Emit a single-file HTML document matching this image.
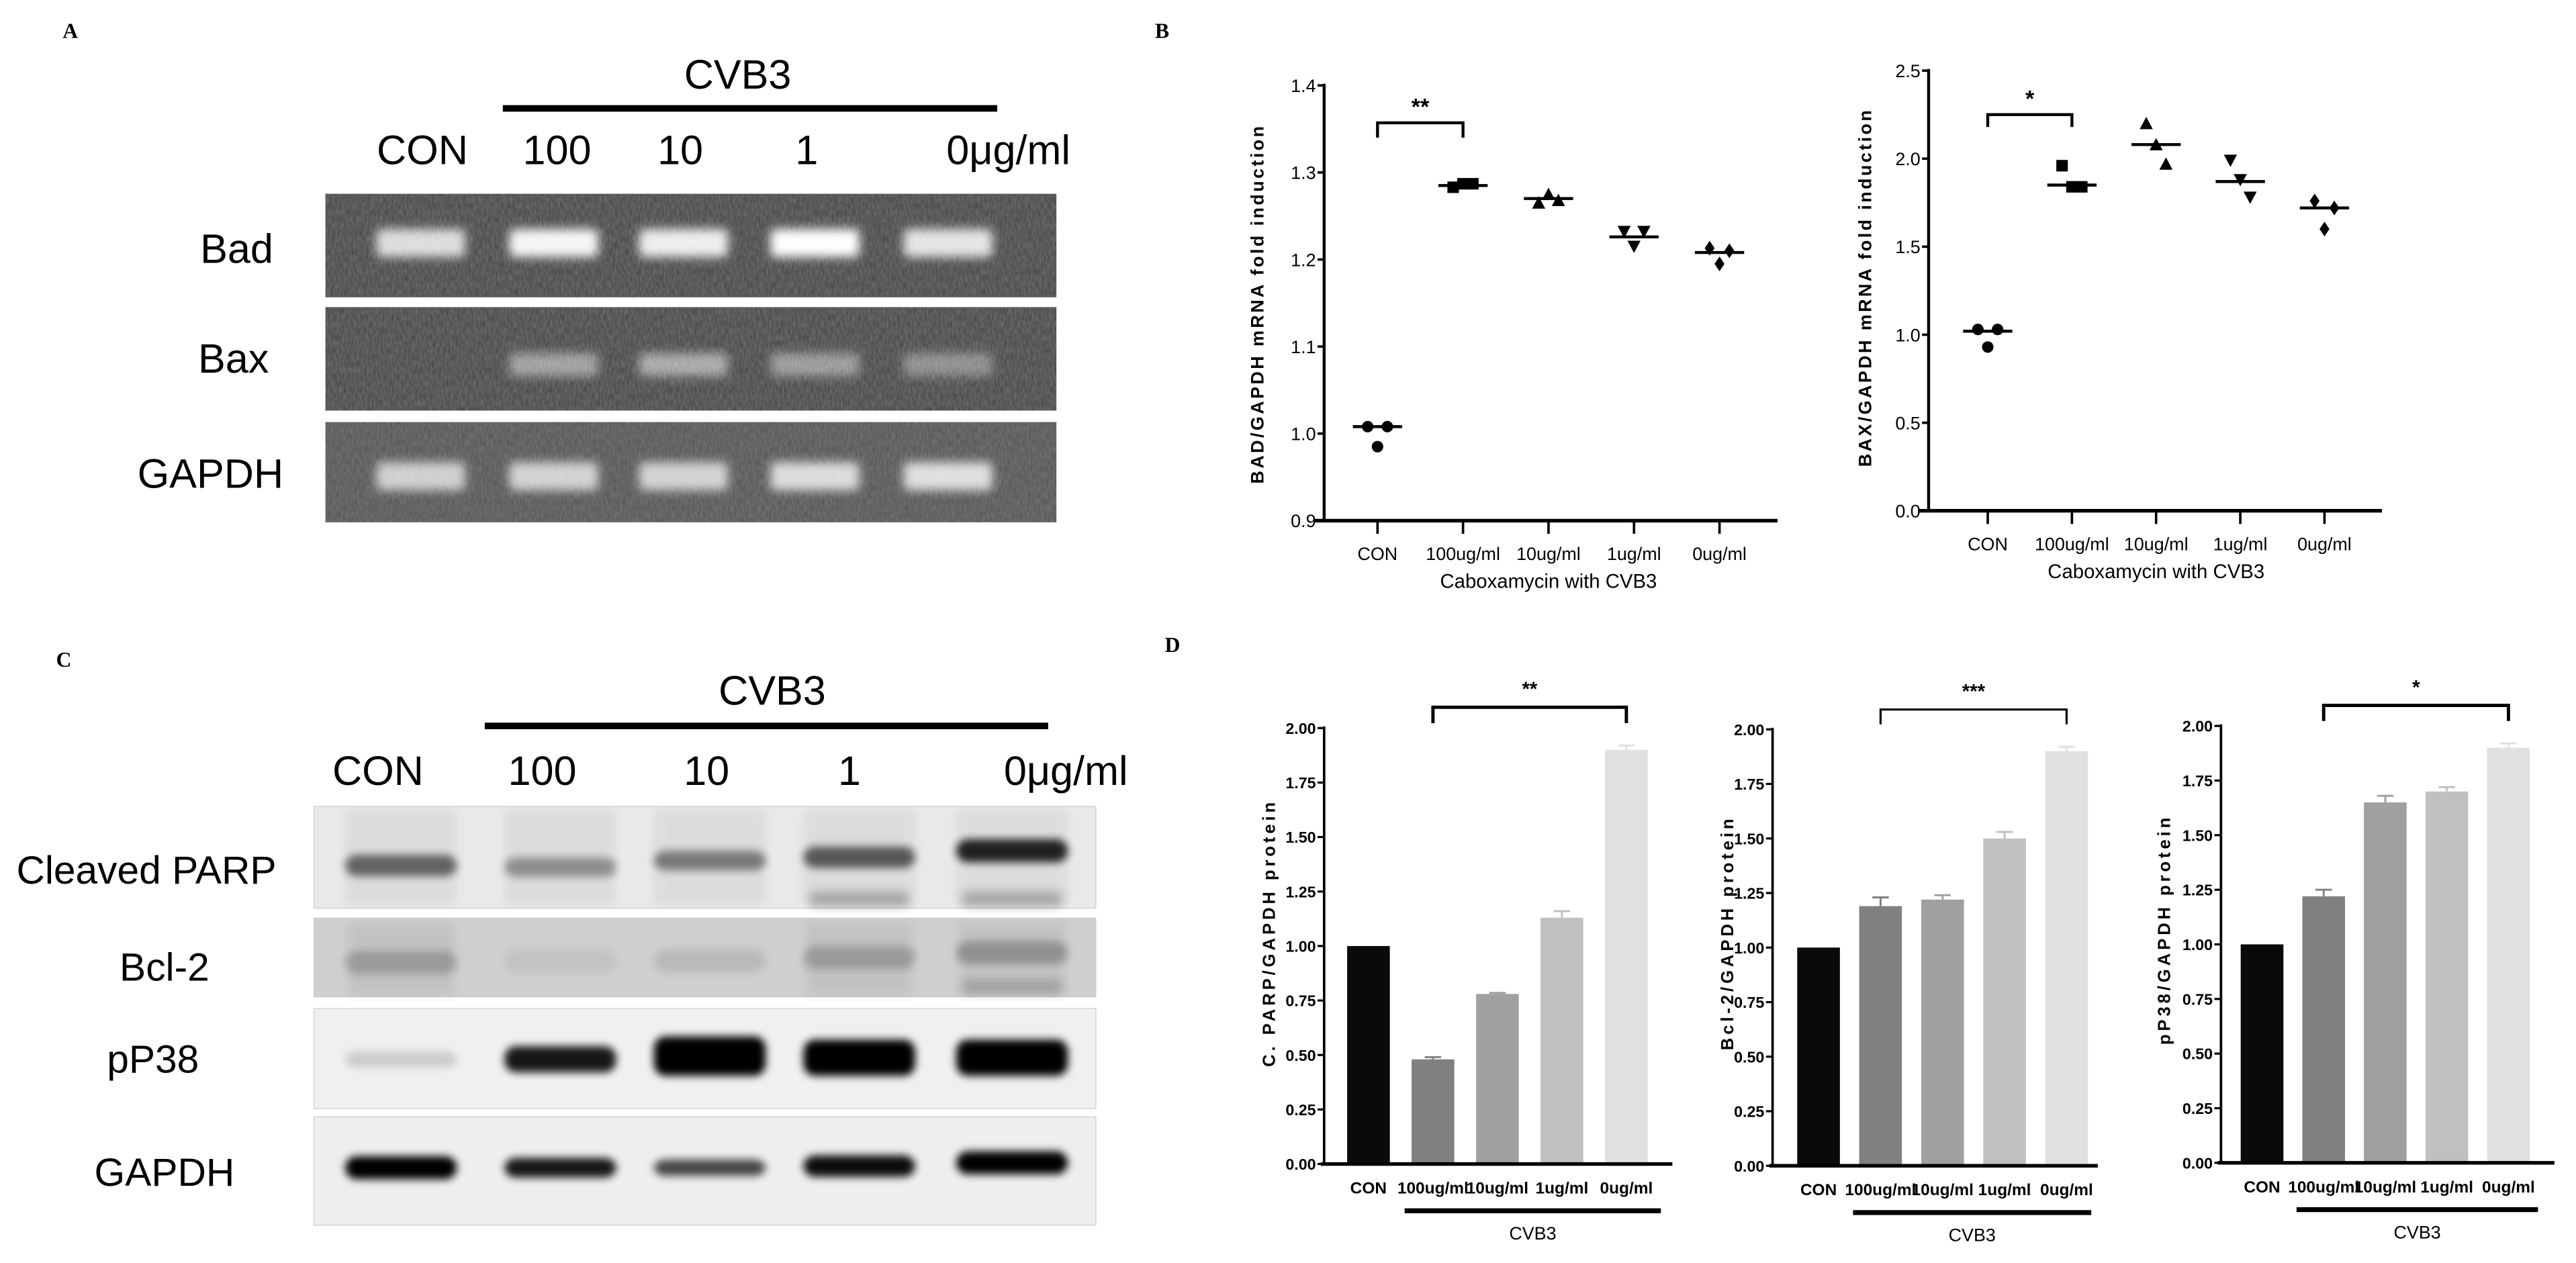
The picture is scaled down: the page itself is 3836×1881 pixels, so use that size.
<!DOCTYPE html>
<html><head><meta charset="utf-8">
<style>
html,body{margin:0;padding:0;background:#fff;}
svg{display:block;}
.sans{font-family:"Liberation Sans","DejaVu Sans",sans-serif;}
.narrow{font-family:"Liberation Sans Narrow","Liberation Sans",sans-serif;}
.serif{font-family:"Liberation Serif",serif;}
</style></head>
<body>
<svg id="fig" width="3836" height="1881" viewBox="0 0 1568 769" xmlns="http://www.w3.org/2000/svg">
<defs>
<filter id="noise" x="0" y="0" width="100%" height="100%">
<feTurbulence type="fractalNoise" baseFrequency="0.9 0.25" numOctaves="2" seed="3" result="t"/>
<feColorMatrix in="t" type="matrix" values="0 0 0 0 0.22  0 0 0 0 0.22  0 0 0 0 0.22  0 0 0 -1.2 1.1"/>
<feComposite in2="SourceGraphic" operator="in"/>
</filter>
<filter id="blur3" x="-50%" y="-100%" width="200%" height="300%"><feGaussianBlur stdDeviation="3"/></filter>
<filter id="blur2" x="-50%" y="-100%" width="200%" height="300%"><feGaussianBlur stdDeviation="2.5"/></filter>
<filter id="blur5" x="-50%" y="-100%" width="200%" height="300%"><feGaussianBlur stdDeviation="5"/></filter>
</defs>
<g id="root"></g>
</svg>
<script>
// ---------- Panel B data ----------
const bCats = ["CON","100ug/ml","10ug/ml","1ug/ml","0ug/ml"];
const badTicks = [0.9,1.0,1.1,1.2,1.3,1.4];
const badPts = [[1.008,0.985,1.008],[1.283,1.287,1.287],[1.265,1.275,1.268],[1.232,1.215,1.232],[1.213,1.195,1.210]];
const badMed = [1.008,1.285,1.270,1.226,1.208];
const baxTicks = [0.0,0.5,1.0,1.5,2.0,2.5];
const baxPts = [[1.03,0.93,1.03],[1.96,1.84,1.84],[2.20,2.08,1.97],[1.99,1.88,1.78],[1.76,1.60,1.72]];
const baxMed = [1.02,1.85,2.08,1.87,1.72];
// ---------- Panel D data ----------
const dCats = ["CON","100ug/ml","10ug/ml","1ug/ml","0ug/ml"];
const dTicks = [0.00,0.25,0.50,0.75,1.00,1.25,1.50,1.75,2.00];
const dTickLabels = ["0.00","0.25","0.50","0.75","1.00","1.25","1.50","1.75","2.00"];
const parpVals = [1.00,0.48,0.78,1.13,1.90];
const parpErr = [0,0.01,0.005,0.03,0.02];
const bclVals = [1.00,1.19,1.22,1.50,1.90];
const bclErr = [0,0.04,0.02,0.03,0.02];
const p38Vals = [1.00,1.22,1.65,1.70,1.90];
const p38Err = [0,0.03,0.03,0.02,0.02];
const barColors = ["#0a0a0a","#808080","#a0a0a0","#c0c0c0","#e0e0e0"];

const NS="http://www.w3.org/2000/svg";
const root=document.getElementById('root');
function mk(tag,attrs,parent,text){const e=document.createElementNS(NS,tag);for(const k in attrs)e.setAttribute(k,attrs[k]);if(text!==undefined)e.textContent=text;(parent||root).appendChild(e);return e;}
function grp(parent){return mk('g',{},parent);}

// ---------- panel letters ----------
[["A",38,23],["B",703,23],["C",34,406],["D",709,397]].forEach(([t,x,y])=>{
  const e=mk('text',{x:x,y:y,'font-size':13,'font-weight':'bold',class:'serif'},root,t);
  
  
});

// ---------- Panel A gel ----------
const gA=grp();


{
  let t=mk('text',{x:449,y:54,'font-size':25,'text-anchor':'middle',class:'sans'},gA,'CVB3');
  
  
  let l=mk('rect',{x:306,y:64,width:301,height:4,fill:'#000'},gA);
  
  
  [["CON",257,'middle'],["100",339,'middle'],["10",414,'middle'],["1",491,'middle'],["0μg/ml",576,'start']].forEach(([s,x,a])=>{
    const e=mk('text',{x:x,y:100,'font-size':25,'text-anchor':a,class:'sans'},gA,s);
    
    
  });
  const lanes=[256,337,416,496,577];
  const gels=[["Bad",118,181,[0.8,0.95,0.9,1,0.85],144,160,148],["Bax",187,250,[0,0.45,0.5,0.42,0.35],142,227,222],["GAPDH",257,318,[0.7,0.72,0.72,0.78,0.8],128,297,290]];
  gels.forEach(([name,y0,y1,ints,lx,ly,by])=>{
    const g=grp(gA);
    
    
    mk('rect',{x:198,y:y0,width:445,height:y1-y0,fill:name==='GAPDH'?'#555':'#464646'},g);
    mk('rect',{x:198,y:y0,width:445,height:y1-y0,fill:'#000',filter:'url(#noise)',opacity:0.7},g);
    lanes.forEach((cx,i)=>{
      if(ints[i]>0){
        const h=name==='Bax'?14:17;
        const b=mk('rect',{x:cx-27,y:by-h/2,width:54,height:h,rx:3,fill:'#fff',opacity:ints[i],filter:'url(#blur3)'},g);
        
        
      }
    });
    const t=mk('text',{x:lx,y:ly,'font-size':25,'text-anchor':'middle',class:'sans'},gA,name);
    
    
  });
}

// ---------- Panel C western blot ----------
const gC=grp();


{
  let t=mk('text',{x:470,y:429,'font-size':25,'text-anchor':'middle',class:'sans'},gC,'CVB3');
  
  
  let l=mk('rect',{x:295,y:440,width:343,height:4,fill:'#000'},gC);
  
  
  [["CON",230,'middle'],["100",330,'middle'],["10",430,'middle'],["1",517,'middle'],["0μg/ml",611,'start']].forEach(([s,x,a])=>{
    const e=mk('text',{x:x,y:478,'font-size':25,'text-anchor':a,class:'sans'},gC,s);
    
    
  });
  const lanes=[244,341,432,523,616];
  const blots=[
    ["Cleaved PARP",491,553,'#e9e9e9',[0.55,0.35,0.45,0.6,0.85],[13,12,12,13,14],[0,0,0,0,0],89,538],
    ["Bcl-2",559,607,'#cfcfcf',[0.2,0.06,0.1,0.2,0.25],[14,14,14,14,14],[0,0,0,0,0],100,597],
    ["pP38",614,675,'#f0f0f0',[0.15,0.9,1,1,1],[10,16,24,22,22],[0,0,-2,-1,-1],93,653],
    ["GAPDH",680,746,'#eeeeee',[1,0.9,0.7,0.95,1],[14,12,10,13,14],[0,0,0,0,0],100,722]
  ];
  const bandY={"Cleaved PARP":[527,528,524,522,518],"Bcl-2":[586,585,585,583,580],"pP38":[645,645,645,645,645],"GAPDH":[711,711,711,710,708]};
  blots.forEach(([name,y0,y1,bg,ints,hs,dy,lx,ly])=>{
    const g=grp(gC);
    
    
    mk('rect',{x:191,y:y0,width:476,height:y1-y0,fill:bg,stroke:'#ccc','stroke-width':0.5},g);
    if(name==='Cleaved PARP'){
      [523,616].forEach((cx,k)=>{mk('rect',{x:cx-30,y:543,width:60,height:9,fill:'#000',opacity:0.25,filter:'url(#blur3)'},g);});
      lanes.forEach(cx=>{mk('rect',{x:cx-34,y:493,width:68,height:58,fill:'#000',opacity:0.05,filter:'url(#blur3)'},g);});
    }
    if(name==='Bcl-2'){
      [244,523,616].forEach(cx=>{mk('rect',{x:cx-32,y:562,width:64,height:44,fill:'#000',opacity:0.06,filter:'url(#blur3)'},g);});
      mk('rect',{x:586,y:597,width:60,height:8,fill:'#000',opacity:0.18,filter:'url(#blur3)'},g);
    }
    lanes.forEach((cx,i)=>{
      const hh=hs[i], yy=bandY[name][i]+dy[i];
      const b=mk('rect',{x:cx-34,y:yy-hh/2,width:68,height:hh,rx:7,fill:'#000',opacity:ints[i],filter:'url(#blur2)'},g);
      
      
    });
    const t=mk('text',{x:lx,y:ly,'font-size':24,'text-anchor':'middle',class:'sans'},gC,name);
    
    
  });
}

// ---------- Panel B scatter charts ----------
function scatterChart(o){
  const g=grp();
  
  
  const ymin=o.ticks[0], ymax=o.ticks[o.ticks.length-1];
  const Y=v=>o.y0+(v-ymin)/(ymax-ymin)*(o.y1-o.y0);
  const X=i=>o.xs[0]+i*(o.xs[1]-o.xs[0])/(o.cats.length-1);
  const ax=mk('line',{x1:o.ax,y1:Y(ymax)-1,x2:o.ax,y2:Y(ymin)+1,stroke:'#000','stroke-width':1.8},g);
  
  
  const xa=mk('line',{x1:o.ax-6,y1:o.y0,x2:o.xend,y2:o.y0,stroke:'#000','stroke-width':2.2},g);
  
  
  o.ticks.forEach(v=>{
    mk('line',{x1:o.ax-4,y1:Y(v),x2:o.ax,y2:Y(v),stroke:'#000','stroke-width':1.5},g);
    const t=mk('text',{x:o.ax-5,y:Y(v)+4,'font-size':11,'text-anchor':'end',class:'narrow'},g,v.toFixed(1));
    
    
  });
  o.cats.forEach((c,i)=>{
    mk('line',{x1:X(i),y1:o.y0,x2:X(i),y2:o.y0+8,stroke:'#000','stroke-width':1.5},g);
    const t=mk('text',{x:X(i),y:o.y0+24,'font-size':11,'text-anchor':'middle',class:'narrow'},g,c);
    
    
    const m=mk('line',{x1:X(i)-15,y1:Y(o.med[i]),x2:X(i)+15,y2:Y(o.med[i]),stroke:'#000','stroke-width':1.8},g);
    
    
    const offs=[-6,0,6];
    o.pts[i].forEach((v,j)=>{
      const px=X(i)+offs[j], py=Y(v);
      let e;
      if(i===0) e=mk('circle',{cx:px,cy:py,r:3.5},g);
      else if(i===1) e=mk('rect',{x:px-3.5,y:py-3.5,width:7,height:7},g);
      else if(i===2) e=mk('polygon',{points:`${px},${py-4} ${px-4},${py+3.5} ${px+4},${py+3.5}`},g);
      else if(i===3) e=mk('polygon',{points:`${px},${py+4} ${px-4},${py-3.5} ${px+4},${py-3.5}`},g);
      else e=mk('polygon',{points:`${px},${py-4.5} ${px-3},${py} ${px},${py+4.5} ${px+3},${py}`},g);
      
      
    });
  });
  const by=Y(o.brk[0]), bd=Y(o.brk[1]);
  const br=mk('polyline',{points:`${X(0)},${bd} ${X(0)},${by} ${X(1)},${by} ${X(1)},${bd}`,fill:'none',stroke:'#000','stroke-width':1.8},g);
  
  
  const st=mk('text',{x:(X(0)+X(1))/2,y:by-5,'font-size':14,'font-weight':'bold','text-anchor':'middle',class:'sans'},g,o.star);
  
  
  const yt=mk('text',{x:0,y:0,'font-size':11,'font-weight':'bold','text-anchor':'middle','letter-spacing':1.4,class:'sans',transform:`translate(${o.ytx},${o.ytc}) rotate(-90)`},g,o.ytitle);
  
  
  const xt=mk('text',{x:(o.xs[0]+o.xs[1])/2,y:o.y0+41,'font-size':12,'text-anchor':'middle',class:'narrow'},g,'Caboxamycin with CVB3');
  
  
}
scatterChart({name:'bad-chart',cats:bCats,ticks:badTicks,pts:badPts,med:badMed,ax:806,y0:317,y1:52,xs:[838.5,1046.7],xend:1082,brk:[1.357,1.34],star:'**',ytx:769,ytc:185,ytitle:'BAD/GAPDH mRNA fold induction'});
scatterChart({name:'bax-chart',cats:bCats,ticks:baxTicks,pts:baxPts,med:baxMed,ax:1174,y0:311,y1:43,xs:[1210,1415],xend:1450,brk:[2.25,2.18],star:'*',ytx:1139,ytc:175,ytitle:'BAX/GAPDH mRNA fold induction'});

// ---------- Panel D bar charts ----------
function barChart(o){
  const g=grp();
  
  
  const Y=v=>o.y0+(v-0)/(2-0)*(o.y1-o.y0);
  const X=i=>o.xs[0]+i*(o.xs[1]-o.xs[0])/(dCats.length-1);
  const bw=26;
  dCats.forEach((c,i)=>{
    const v=o.vals[i], e=o.err[i];
    const b=mk('rect',{x:X(i)-bw/2,y:Y(v),width:bw,height:o.y0-Y(v),fill:barColors[i]},g);
    
    
    if(e>0){
      const eb=mk('path',{d:`M${X(i)},${Y(v)} V${Y(v+e)} M${X(i)-5},${Y(v+e)} H${X(i)+5}`,stroke:barColors[i],'stroke-width':1.2,fill:'none'},g);
      
      
    }
    const t=mk('text',{x:X(i),y:o.y0+18,'font-size':10,'font-weight':'bold','text-anchor':'middle',class:'narrow'},g,c);
    
    
  });
  const ax=mk('line',{x1:o.ax,y1:Y(2)-1,x2:o.ax,y2:o.y0,stroke:'#000','stroke-width':1.5},g);
  
  
  const xa=mk('line',{x1:o.ax-2,y1:o.y0,x2:o.xend,y2:o.y0,stroke:'#000','stroke-width':2.2},g);
  
  
  dTicks.forEach((v,k)=>{
    mk('line',{x1:o.ax-4,y1:Y(v),x2:o.ax,y2:Y(v),stroke:'#000','stroke-width':1.3},g);
    const t=mk('text',{x:o.ax-5,y:Y(v)+3.5,'font-size':9.5,'font-weight':'bold','text-anchor':'end',class:'narrow'},g,dTickLabels[k]);
    
    
  });
  const br=mk('polyline',{points:`${X(1)},${o.bd} ${X(1)},${o.by} ${X(4)},${o.by} ${X(4)},${o.bd}`,fill:'none',stroke:'#000','stroke-width':o.bw},g);
  
  
  const st=mk('text',{x:(X(1)+X(4))/2,y:o.by-7,'font-size':12,'font-weight':'bold','text-anchor':'middle',class:'sans'},g,o.star);
  
  
  const ul=mk('rect',{x:o.ul[0],y:o.y0+27,width:o.ul[1]-o.ul[0],height:3,fill:'#000'},g);
  
  
  const ct=mk('text',{x:(o.ul[0]+o.ul[1])/2,y:o.y0+46,'font-size':11,'text-anchor':'middle',class:'narrow'},g,'CVB3');
  
  
  const yt=mk('text',{x:0,y:0,'font-size':10.5,'font-weight':'bold','text-anchor':'middle','letter-spacing':2,class:'sans',transform:`translate(${o.ytx},${o.ytc}) rotate(-90)`},g,o.ytitle);
  
  
}
barChart({name:'parp-chart',vals:parpVals,err:parpErr,ax:806,y0:708.7,y1:443.3,xs:[833,990],xend:1018,by:430.6,bd:440.3,bw:2,star:'**',ul:[855,1011],ytx:776,ytc:568,ytitle:'C. PARP/GAPDH protein'});
barChart({name:'bcl2-chart',vals:bclVals,err:bclErr,ax:1079,y0:709.8,y1:444.1,xs:[1107,1258],xend:1277,by:432,bd:441,bw:1.3,star:'***',ul:[1128,1273],ytx:1055,ytc:568,ytitle:'Bcl-2/GAPDH protein'});
barChart({name:'pp38-chart',vals:p38Vals,err:p38Err,ax:1352,y0:708,y1:442,xs:[1377,1527],xend:1555,by:429.5,bd:439,bw:2,star:'*',ul:[1398,1545],ytx:1321,ytc:566,ytitle:'pP38/GAPDH protein'});
</script>
</body></html>
